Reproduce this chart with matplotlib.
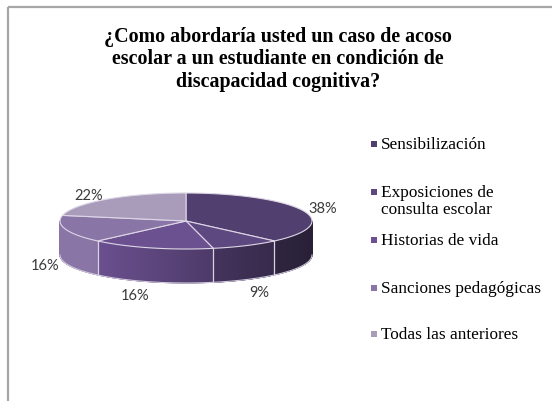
import numpy as np
import matplotlib.pyplot as plt
from matplotlib.patches import Polygon, Rectangle
from matplotlib.collections import PolyCollection
from matplotlib.colors import to_rgb

# datos del grafico
categorias = ['Sensibilización', 'Exposiciones de\nconsulta escolar', 'Historias de vida',
              'Sanciones pedagógicas', 'Todas las anteriores']
porcentajes = [38, 9, 16, 16, 22]
colores = ['#51406f', '#5e4880', '#6c5191', '#8a76a6', '#a89cba']
titulo = ['¿Como abordaría usted un caso de acoso',
          'escolar a un estudiante en condición de',
          'discapacidad cognitiva?']

# geometria del pastel 3D (en pixeles)
cx, cy, a, b, prof = 186, 222, 126, 28, 34

fig = plt.figure(figsize=(5.52, 4.02), dpi=100)
ax = fig.add_axes([0, 0, 1, 1])
ax.set_xlim(0, 552)
ax.set_ylim(402, 0)
ax.axis('off')

# marco
ax.add_patch(Rectangle((8, 8), 700, 700, fill=False, ec='#a6a6a6', lw=1.6))

total = sum(porcentajes)
limites = 90 - 360 * np.cumsum([0] + porcentajes) / total


def elipse(t, dy=0):
    t = np.radians(t)
    return cx + a * np.cos(t), cy - b * np.sin(t) + dy


def oscurecer(color, x):
    f = np.clip(1 - (x - 90) / 440, 0.5, 1.0)
    return tuple(np.array(to_rgb(color)) * f)


# lados del cilindro (solo la mitad frontal)
quads, cols = [], []
for i in range(len(porcentajes)):
    ts = np.linspace(limites[i], limites[i + 1], 240)
    for t1, t2 in zip(ts[:-1], ts[1:]):
        tm = (t1 + t2) / 2
        if np.sin(np.radians(tm)) >= 0:
            continue
        x1, y1 = elipse(t1)
        x2, y2 = elipse(t2)
        quads.append([(x1, y1), (x2, y2), (x2, y2 + prof), (x1, y1 + prof)])
        cols.append(oscurecer(colores[i], (x1 + x2) / 2))
ax.add_collection(PolyCollection(quads, facecolors=cols, edgecolors=cols, lw=0.6))

# borde inferior y lineas verticales
tf = np.linspace(-180, 0, 200)
xb, yb = elipse(tf, prof)
ax.plot(xb, yb, color='#cfc8da', lw=0.8)
for t in limites:
    if np.sin(np.radians(t)) < 0:
        x, y = elipse(t)
        ax.plot([x, x], [y, y + prof], color='#d8d2e2', lw=0.9)

# caras superiores
for i in range(len(porcentajes)):
    ts = np.linspace(limites[i], limites[i + 1], 150)
    xs, ys = elipse(ts)
    pts = [(cx, cy)] + list(zip(xs, ys))
    ax.add_patch(Polygon(pts, closed=True, fc=colores[i], ec='#ddd6e6', lw=0.8))

# etiquetas de porcentaje
for i, p in enumerate(porcentajes):
    tm = (limites[i] + limites[i + 1]) / 2
    c, s = np.cos(np.radians(tm)), np.sin(np.radians(tm))
    ex, ey = elipse(tm, prof if s < 0 else 0)
    g = 6
    ha = 'left' if c > 0.1 else ('right' if c < -0.1 else 'center')
    va = 'top' if s < -0.3 else 'center'
    ax.text(ex + g * c, ey - g * s, f'{p}%', ha=ha, va=va,
            fontsize=10.5, family='Lato', color='#3a3a3a')

# titulo
for j, linea in enumerate(titulo):
    ax.text(278, 37 + j * 22.5, linea, ha='center', va='center',
            fontsize=14.4, family='Liberation Serif', weight='bold', color='black')

# leyenda
filas = [145, 193, 241, 289, 335]
for i, (cat, y) in enumerate(zip(categorias, filas)):
    ax.add_patch(Rectangle((371, y - 3), 6, 6, fc=colores[i], ec='none'))
    ax.text(381, y - 8, cat, ha='left', va='top', fontsize=12.4,
            family='Liberation Serif', color='black', linespacing=1.1)

fig.savefig('out.png', dpi=100)
